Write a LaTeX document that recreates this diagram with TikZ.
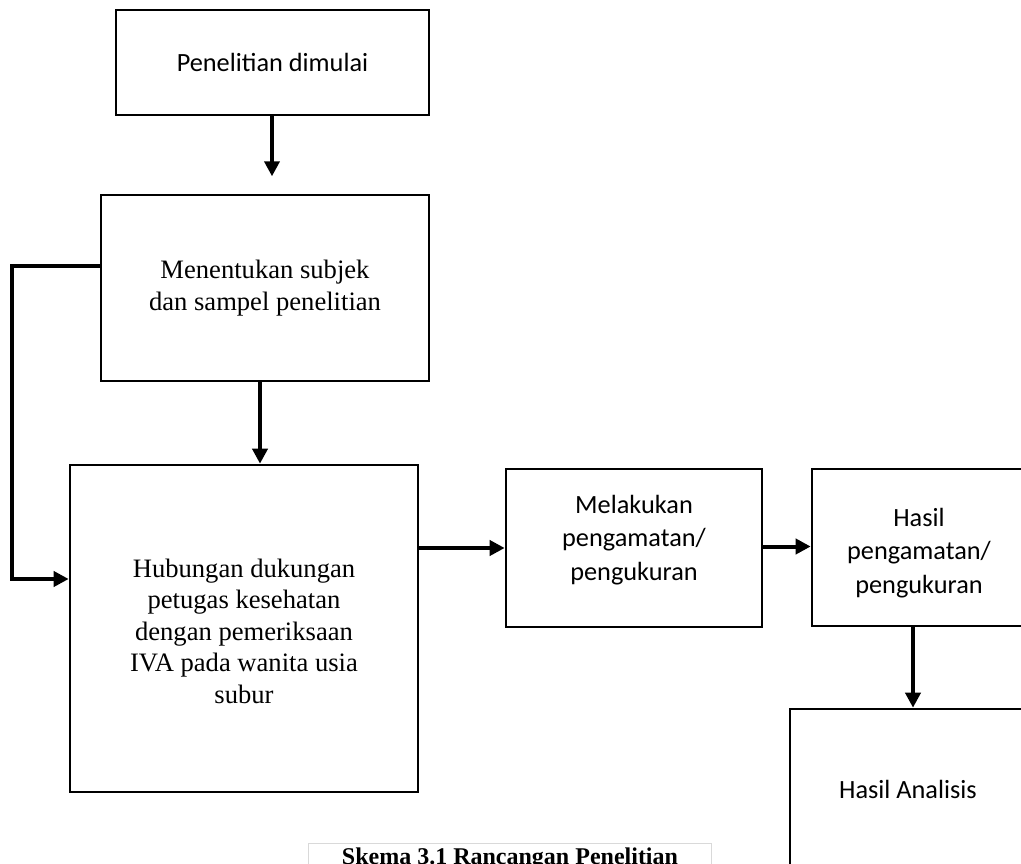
\documentclass[tikz,border=0pt]{standalone}
\usepackage{fontspec}
\setmainfont{Liberation Serif}
\newfontfamily\calfont{Carlito}
\usetikzlibrary{arrows.meta}
\tikzset{
  box/.style={draw=black, line width=2.6pt, rectangle, inner sep=0pt},
  sertext/.style={font=\fontsize{26.6}{31.5}\selectfont, align=center, inner sep=0pt},
  santext/.style={font=\calfont\fontsize{26.3}{33.5}\selectfont, align=center, inner sep=0pt},
  arr/.style={line width=4pt, -{Triangle[length=15pt,width=15pt]}},
  capbox/.style={draw=black!15, line width=1pt},
}
\begin{document}
\begin{tikzpicture}[x=1pt,y=-1pt]
\useasboundingbox (0,0) rectangle (1021,864);
\clip (0,0) rectangle (1021,864);
% boxes
\node[box, minimum width=313pt, minimum height=105pt, santext] (b1) at (272.5,62.5) {Penelitian dimulai};
\node[box, minimum width=328pt, minimum height=186pt, sertext] (b2) at (265,288) {Menentukan subjek\\dan sampel penelitian};
\node[box, minimum width=348pt, minimum height=327pt] (b3) at (244,628.5) {};
\node[sertext] (t3) at (244,631) {Hubungan dukungan\\petugas kesehatan\\dengan pemeriksaan\\IVA pada wanita usia\\subur};
\node[box, minimum width=256pt, minimum height=158pt] (b4) at (634,548) {};
\node[santext] (t4) at (634,540) {Melakukan\\pengamatan/\\pengukuran};
\node[box, minimum width=214pt, minimum height=157pt] (b5) at (919,547.5) {};
\node[santext] (t5) at (919,553) {Hasil\\pengamatan/\\pengukuran};
\node[box, minimum width=236pt, minimum height=171pt] (b6) at (908,794.5) {};
\node[santext] (t6) at (908,789) {Hasil Analisis};
% caption
\node[capbox, minimum width=403pt, minimum height=60pt, inner sep=0pt] (cb) at (509.5,873) {};
\node[font=\bfseries\fontsize{24}{28}\selectfont, anchor=base, inner sep=0pt] (cap) at (510,864.5) {Skema 3.1 Rancangan Penelitian};
% connectors
\coordinate (a1end) at ([yshift=-60pt]b1.south);
\draw[arr] ([xshift=-0.5pt]b1.south) -- ([xshift=-0.5pt]a1end);
\draw[arr] ([xshift=-5pt]b2.south) -- ([xshift=-5pt]b2.south |- b3.north);
\draw[arr] ([yshift=22pt]b2.west) -- ++(-88,0) |- ([yshift=49.5pt]b3.west);
\draw[arr] (b3.east |- b4.west) -- (b4.west);
\draw[arr] ([yshift=1.5pt]b4.east) -- ([yshift=1.5pt]b4.east -| b5.west);
\draw[arr] ([xshift=-6pt]b5.south) -- ([xshift=-6pt]b5.south |- b6.north);
\end{tikzpicture}
\end{document}
